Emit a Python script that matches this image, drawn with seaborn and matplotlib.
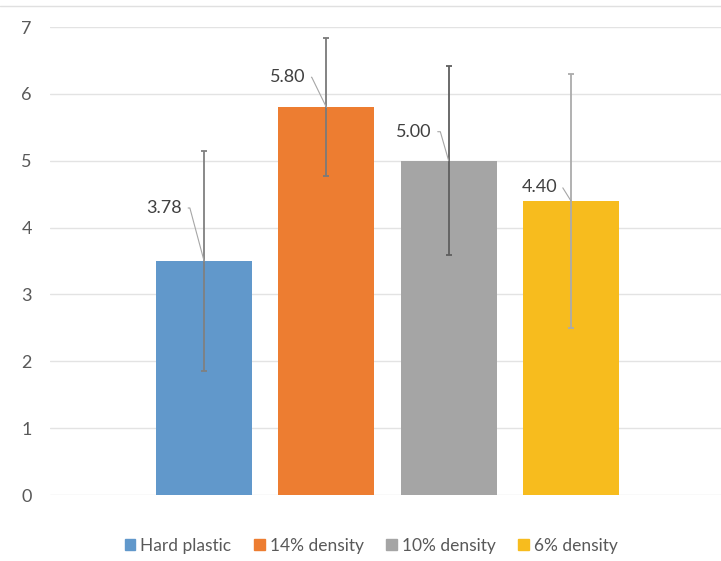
import matplotlib
matplotlib.use("Agg")
import matplotlib.pyplot as plt
import matplotlib.lines as mlines
import seaborn as sns
import pandas as pd

series = ["Hard plastic", "14% density", "10% density", "6% density"]
values = [3.50, 5.80, 5.00, 4.40]
errors = [1.65, 1.03, 1.41, 1.90]
labels = ["3.78", "5.80", "5.00", "4.40"]
yticks = [0, 1, 2, 3, 4, 5, 6, 7]

colors = ["#6198CB", "#ED7D31", "#A5A5A5", "#F7BC1E"]
err_colors = ["#808080", "#7a7a7a", "#5f5f5f", "#ababab"]
label_offsets = [(-22, 53), (-21, 30), (-17, 29), (-14, 14)]
leader_angles = [105, 116, 106, 122]

sns.set_theme(style="white")
plt.rcParams["font.family"] = ["Lato", "DejaVu Sans"]

df = pd.DataFrame({"series": series, "value": values})

fig = plt.figure(figsize=(7.21, 5.61), dpi=100)
ax = fig.add_axes([50 / 721, 66 / 561, 675 / 721, 468 / 561])

sns.barplot(data=df, x="series", y="value", hue="series", palette=colors,
            order=series, hue_order=series, width=0.785, linewidth=0,
            saturation=1, legend=False, ax=ax, errorbar=None)

for i, (v, e) in enumerate(zip(values, errors)):
    ax.errorbar(i, v, yerr=e, fmt="none", ecolor=err_colors[i],
                elinewidth=1.3, capsize=2.5, capthick=1.3, zorder=3)

for i, (v, lab) in enumerate(zip(values, labels)):
    dx, dy = label_offsets[i]
    ax.annotate(lab, xy=(i, v), xytext=(dx, dy), textcoords="offset pixels",
                ha="right", va="center", fontsize=13, color="#404040",
                arrowprops=dict(arrowstyle="-", color="#a6a6a6", lw=0.8,
                                shrinkA=2, shrinkB=0, relpos=(1, 0.5),
                                connectionstyle=f"angle,angleA=0,angleB={leader_angles[i]},rad=0"),
                zorder=4)

ax.set_ylim(0, 7)
ax.set_xlim(-1.26, 4.26)
ax.set_yticks(yticks)
ax.set_yticklabels([str(t) for t in yticks], fontsize=13, color="#595959")
ax.tick_params(axis="y", length=0, pad=13)
ax.set_xticks([])
ax.set_xlabel("")
ax.set_ylabel("")
ax.grid(axis="y", color="#e3e3e3", linewidth=1)
ax.set_axisbelow(True)
for s in ax.spines.values():
    s.set_visible(False)

handles = [plt.Rectangle((0, 0), 1, 1, color=c) for c in colors]
fig.legend(handles, series, loc="center", bbox_to_anchor=(0.515, 1 - 546 / 561),
           ncol=4, frameon=False, fontsize=12.5, handlelength=0.6, handleheight=0.6,
           handletextpad=0.3, columnspacing=1.3, labelcolor="#595959")

fig.add_artist(mlines.Line2D([0, 1], [1 - 6 / 561, 1 - 6 / 561], color="#e0e0e0", lw=1,
                             transform=fig.transFigure))

fig.savefig("out.png", dpi=100, facecolor="white")
